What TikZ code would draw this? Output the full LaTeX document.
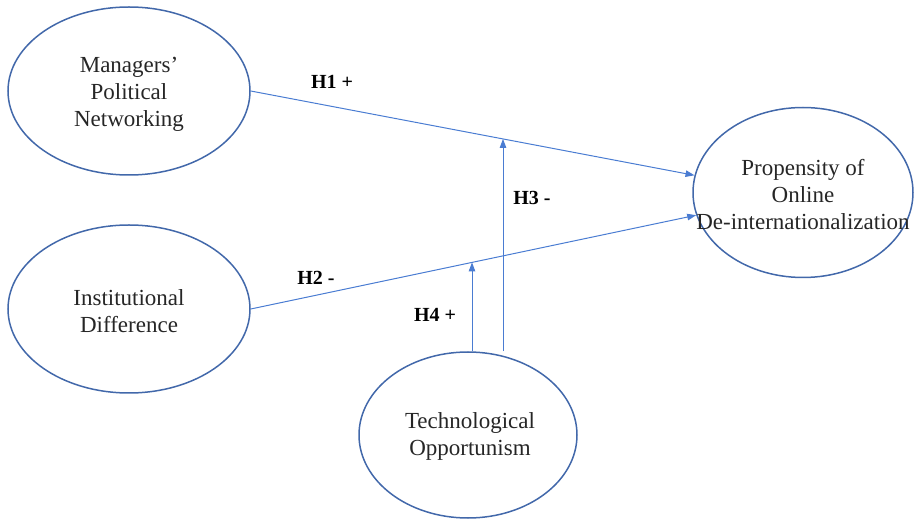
\documentclass[tikz,border=0pt]{standalone}
\usepackage{fontspec}
\setmainfont{Liberation Serif}
\usetikzlibrary{arrows.meta,shapes.geometric,intersections}
\definecolor{ellcol}{RGB}{66,104,170}
\definecolor{arrcol}{RGB}{74,124,210}
\tikzset{
  oval/.style={draw=ellcol, line width=1.5pt, ellipse, inner sep=0pt},
  ovaltext/.style={align=center, font=\fontsize{23}{27}\selectfont, text=black!85},
  arr/.style={draw=arrcol, line width=1pt, -{Triangle[length=9pt,width=6.5pt]}},
  hyp/.style={font=\fontsize{20}{24}\selectfont\bfseries, text=black}
}
\begin{document}
\begin{tikzpicture}[x=1pt,y=-1pt]
\useasboundingbox (0,0) rectangle (914,521);
% ellipses
\node[oval, minimum width=242pt, minimum height=168pt] (mpn) at (129,91) {};
\node[oval, minimum width=242pt, minimum height=168pt] (inst) at (129,309) {};
\node[oval, minimum width=220pt, minimum height=170pt] (prop) at (803,192.5) {};
\node[oval, minimum width=218pt, minimum height=166pt] (tech) at (468,435) {};
% texts
\node[ovaltext] (mpnt) at (129,94) {Managers'\\Political\\Networking};
\node[ovaltext] (instt) at (129,311) {Institutional\\Difference};
\node[ovaltext] (propt) at (803,195) {Propensity of\\Online\\De-internationalization};
\node[ovaltext] (techt) at (470,436) {Technological\\Opportunism};
% main paths
\draw[arr, name path=h1] (mpn.east) -- (prop.171.5);
\draw[arr, name path=h2] (inst.east) -- (prop.192.4);
\path[name path=v3] (503,100) -- (503,400);
\path[name path=v4] (472,100) -- (472,400);
\path[name intersections={of=h1 and v3, by=h3end}];
\path[name intersections={of=h2 and v4, by=h4end}];
\draw[arr] (tech.north -| h3end) -- (h3end);
\draw[arr] (tech.north -| h4end) -- (h4end);
% labels
\node[hyp] (l1) at (332,82) {H1 +};
\node[hyp] (l2) at (316,278) {H2 -};
\node[hyp] (l3) at (532,198) {H3 -};
\node[hyp] (l4) at (435,315) {H4 +};
\end{tikzpicture}
\end{document}
